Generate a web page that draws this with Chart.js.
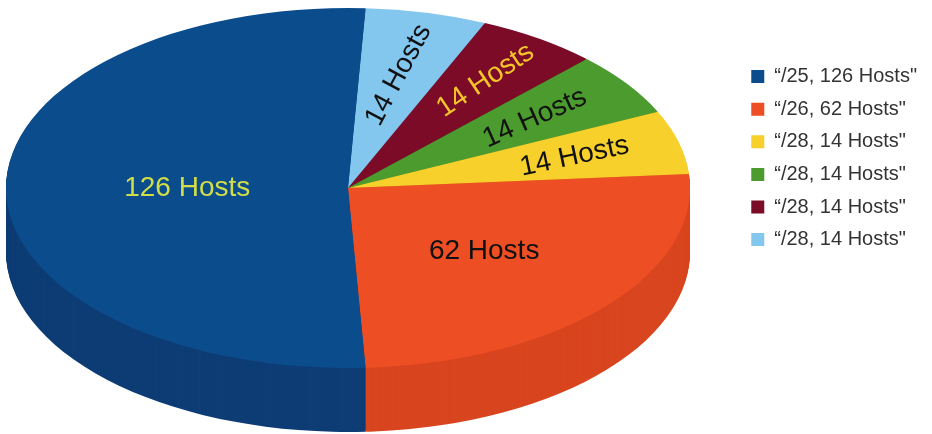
<!DOCTYPE html>
<html>
<head>
<meta charset="utf-8">
<script src="https://cdn.jsdelivr.net/npm/chart.js@4"></script>
<style>
  html, body { margin: 0; padding: 0; background: #fff; }
  #wrap { width: 932px; height: 434px; }
</style>
</head>
<body>
<div id="wrap"><canvas id="pie"></canvas></div>
<script>
// subnets in legend order
const subnets = ['\u201C/25, 126 Hosts"', '\u201C/26, 62 Hosts"', '\u201C/28, 14 Hosts"', '\u201C/28, 14 Hosts"', '\u201C/28, 14 Hosts"', '\u201C/28, 14 Hosts"'];
const hosts = [126, 62, 14, 14, 14, 14];
const sliceLabels = ['126 Hosts', '62 Hosts', '14 Hosts', '14 Hosts', '14 Hosts', '14 Hosts'];

const topColors = ['#0b4c8c', '#ee4e24', '#f7d02b', '#4c9b2e', '#7b0b27', '#83c6ee'];
const sideColors = ['#0e3d75', '#d8451f', '#d6b022', '#3e8025', '#5c071c', '#6aa6cc'];
const labelColors = ['#d2de48', '#111', '#111', '#111', '#f3c52a', '#111'];
const labelTilt = [0, 0, -12, -24, -34, -62];
const labelDist = [0.47, 0.53, 0.685, 0.67, 0.72, 0.645];

// pie sits as a tilted disc: top face ellipse + wall height
const CX = 348, CY = 188, RX = 342, RY = 180, DEPTH = 64;
const FONT = '"Liberation Sans", Arial, sans-serif';

// slices run counter-clockwise from 12 o'clock, so feed them reversed
const order = hosts.map((_, i) => hosts.length - 1 - i);

const pie3d = {
  id: 'pie3d',
  beforeDatasetsDraw(chart) {
    const ctx = chart.ctx;
    const arcs = chart.getDatasetMeta(0).data;
    const r = arcs[0].outerRadius;
    const sx = RX / r, sy = RY / r;

    const fillSlice = (arc, dy, color) => {
      ctx.save();
      ctx.translate(CX, CY + dy);
      ctx.scale(sx, sy);
      ctx.beginPath();
      ctx.moveTo(0, 0);
      ctx.arc(0, 0, r, arc.startAngle, arc.endAngle);
      ctx.closePath();
      ctx.fillStyle = color;
      ctx.fill();
      ctx.restore();
    };

    // wall: stack the slices downwards, then the top face
    for (let d = DEPTH; d > 0; d--) {
      arcs.forEach((a, j) => fillSlice(a, d, sideColors[order[j]]));
    }
    arcs.forEach((a, j) => fillSlice(a, 0, topColors[order[j]]));

    // slice labels
    ctx.save();
    ctx.font = '28px ' + FONT;
    ctx.textAlign = 'center';
    ctx.textBaseline = 'middle';
    arcs.forEach((a, j) => {
      const i = order[j];
      const mid = (a.startAngle + a.endAngle) / 2;
      const f = labelDist[i];
      ctx.save();
      ctx.translate(CX + RX * f * Math.cos(mid), CY + RY * f * Math.sin(mid));
      ctx.rotate(labelTilt[i] * Math.PI / 180);
      ctx.fillStyle = labelColors[i];
      ctx.fillText(sliceLabels[i], 0, 0);
      ctx.restore();
    });
    ctx.restore();
    return false;
  }
};

new Chart(document.getElementById('pie'), {
  type: 'pie',
  data: {
    labels: order.map(i => subnets[i]),
    datasets: [{
      data: order.map(i => hosts[i]),
      backgroundColor: order.map(i => topColors[i]),
      borderWidth: 0
    }]
  },
  options: {
    responsive: true,
    maintainAspectRatio: false,
    animation: false,
    events: [],
    rotation: 2.95,
    layout: { padding: { top: 54, right: 5 } },
    plugins: {
      tooltip: { enabled: false },
      legend: {
        position: 'right',
        align: 'start',
        reverse: true,
        labels: {
          boxWidth: 13,
          boxHeight: 13,
          padding: 12.6,
          color: '#333',
          font: { size: 20, family: FONT }
        }
      }
    }
  },
  plugins: [pie3d]
});
</script>
</body>
</html>
